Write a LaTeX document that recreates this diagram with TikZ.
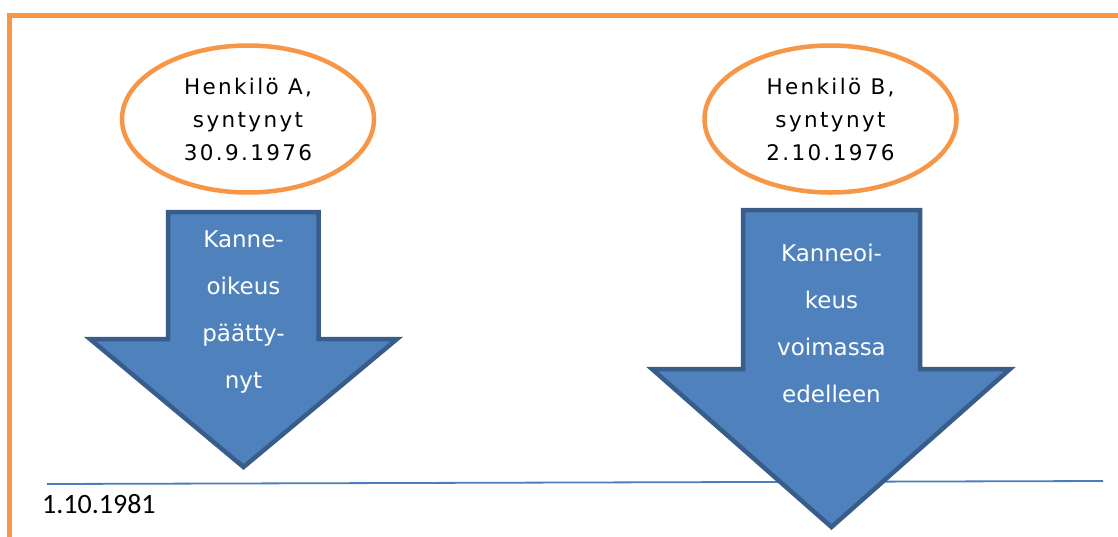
\documentclass[tikz,border=0pt]{standalone}
\usepackage{fontspec}
\setmainfont{DejaVu Sans}
\newfontfamily\bubblefont[LetterSpace=11]{DejaVu Sans}
\newfontfamily\datefont{Carlito}
\usetikzlibrary{positioning,shapes.geometric}
\definecolor{colorframe} {RGB}{247,150, 70}
\definecolor{colorarrow} {RGB}{ 79,129,189}
\definecolor{colorborder}{RGB}{ 56, 93,138}
\definecolor{colorline}  {RGB}{ 74,126,187}

\begin{document}
\begin{tikzpicture}[
    x=1pt, y=-1pt,
    person/.style={ellipse,draw=colorframe,line width=4.5pt,minimum width=252pt,minimum height=147pt,inner sep=0pt,align=center,font={\bubblefont\fontsize{21.5pt}{33pt}\selectfont}},
    arrowbody/.style={fill=colorarrow,draw=colorborder,line width=4.5pt,line join=miter},
    arrowtext/.style={text=white,align=center,anchor=base,font={\fontsize{23pt}{47pt}\selectfont}},
    frame/.style={draw=colorframe,line width=4.5pt},
    timeline/.style={draw=colorline,line width=1.8pt},
]
    \useasboundingbox (0,0) rectangle (1118,536);

    \draw[frame] (1125,15.5) -- (9.5,15.5) -- (9.5,545);

    \node[person]                     (persA) at (248,119) {Henkilö A,\\syntynyt\\30.9.1976};
    \node[person,right=326pt of persA] (persB)             {Henkilö B,\\syntynyt\\2.10.1976};

    \coordinate (lineL) at (47,484);
    \coordinate (lineR) at (1103,481);
    \draw[timeline] (lineL) -- (lineR);

    \node[anchor=base west,inner sep=0pt,font={\datefont\fontsize{28pt}{28pt}\selectfont}] (date) at (42,513) {1.10.1981};

    % arrow A
    \draw[arrowbody] (168,212) -- (318.5,212) -- (318.5,339) -- (397,339) -- (243.5,467) -- (90,339) -- (168,339) -- cycle;
    \node[arrowtext] (rightA) at (243.5,388) {Kanne-\\oikeus\\päätty-\\nyt};

    % arrow B
    \draw[arrowbody] (743,210) -- (920,210) -- (920,369) -- (1010,369) -- (831.5,527) -- (652,369) -- (743,369) -- cycle;
    \node[arrowtext] (rightB) at (831.5,402) {Kanneoi-\\keus\\voimassa\\edelleen};

\end{tikzpicture}
\end{document}
